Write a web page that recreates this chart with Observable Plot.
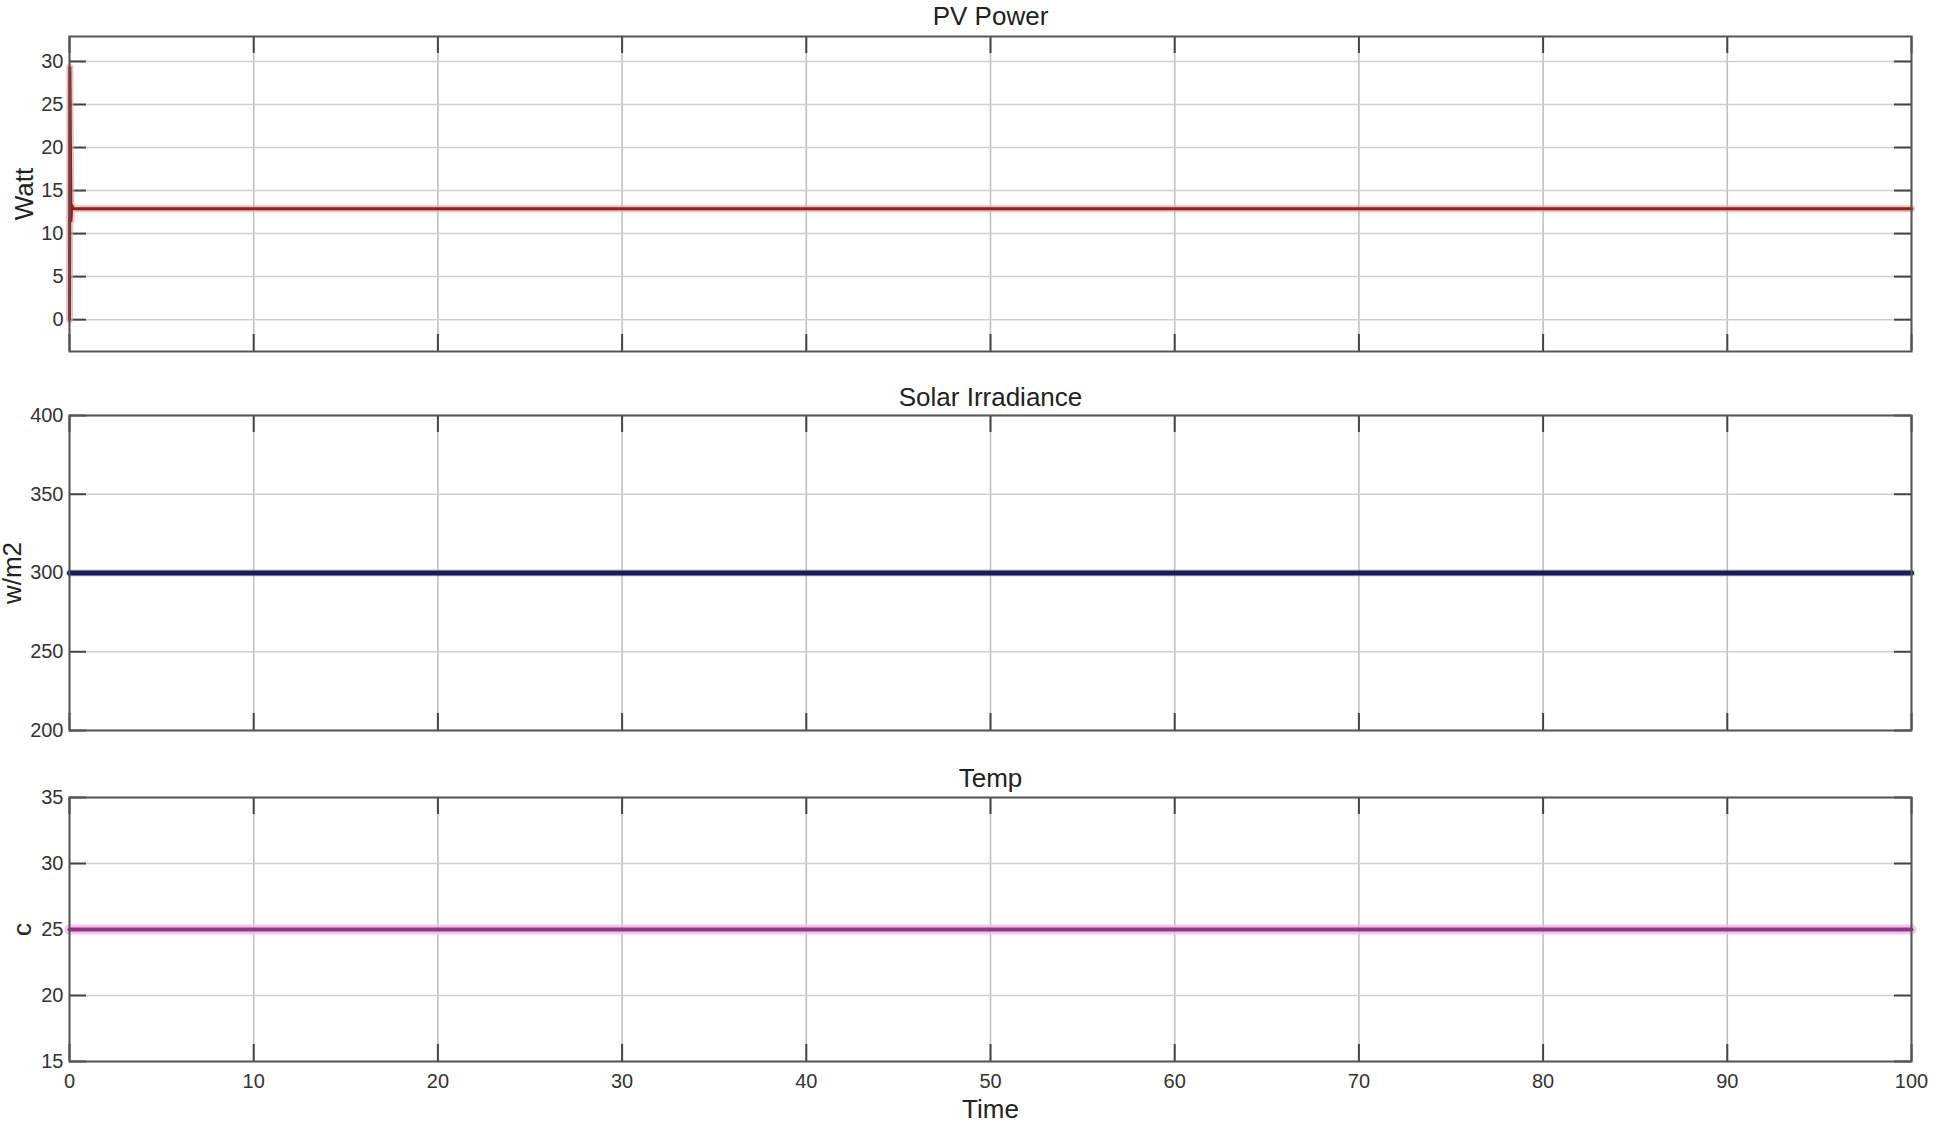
<!DOCTYPE html>
<html>
<head>
<meta charset="utf-8">
<script src="https://cdn.jsdelivr.net/npm/d3@7"></script>
<script src="https://cdn.jsdelivr.net/npm/@observablehq/plot@0.6"></script>
<style>
  html, body { margin: 0; padding: 0; background: #fff; overflow: hidden; }
  #chart svg { display: block; }
</style>
</head>
<body>
<div id="chart"></div>
<script>
// ---- Data ----
const xTicks = [0, 10, 20, 30, 40, 50, 60, 70, 80, 90, 100];

const pvTime  = [0, 0.02, 0.05, 0.08, 0.12, 0.2, 100];
const pvPower = [0, 29.3, 20, 11.5, 13.3, 12.9, 12.9];
const pvTicks = [0, 5, 10, 15, 20, 25, 30];

const irrTime    = [0, 100];
const irradiance = [300, 300];
const irrTicks   = [200, 250, 300, 350, 400];

const tempTime    = [0, 100];
const temperature = [25, 25];
const tempTicks   = [15, 20, 25, 30, 35];

const titles  = ["PV Power", "Solar Irradiance", "Temp"];
const yLabels = ["Watt", "w/m2", "c"];
const xLabel  = "Time";

// ---- Layout ----
const W = 1938, ML = 69, MR = 27;
const FW = W - ML - MR;
const TICK = 17;
const font = "'Liberation Sans', Arial, Helvetica, sans-serif";

function panel({title, ylabel, ylabelDx, t, v, yDomain, yTicks, height, mt, mb, showX, lines, titleDy}) {
  const FH = height - mt - mb;
  const data = t.map((tt, i) => ({t: tt, v: v[i]}));
  const marks = [
    Plot.gridX(xTicks, {stroke: "#bdbdbd", strokeOpacity: 1, strokeWidth: 1.5}),
    Plot.gridY(yTicks, {stroke: "#cfcfcf", strokeOpacity: 1, strokeWidth: 1.5}),
    Plot.tickX(xTicks, {x: d => d, insetBottom: FH - TICK, stroke: "#444", strokeWidth: 2}),
    Plot.tickX(xTicks, {x: d => d, insetTop: FH - TICK, stroke: "#444", strokeWidth: 2}),
    Plot.tickY(yTicks, {y: d => d, insetRight: FW - TICK, stroke: "#444", strokeWidth: 2}),
    Plot.tickY(yTicks, {y: d => d, insetLeft: FW - TICK, stroke: "#444", strokeWidth: 2}),
    ...lines.map(l => Plot.line(data, {x: "t", y: "v", stroke: l.stroke, strokeWidth: l.width, strokeOpacity: l.opacity ?? 1})),
    Plot.frame({stroke: "#555", strokeWidth: 2}),
    Plot.axisY(yTicks, {tickSize: 0, tickPadding: 6, label: null, fontSize: 20, fill: "#333"}),
    Plot.text([title], {text: d => d, frameAnchor: "top", dy: titleDy, textAnchor: "middle", lineAnchor: "middle", fontSize: 26, fill: "#222"}),
    Plot.text([ylabel], {text: d => d, frameAnchor: "left", rotate: -90, dx: ylabelDx, textAnchor: "middle", lineAnchor: "middle", fontSize: 26, fill: "#222"})
  ];
  if (showX) {
    marks.push(Plot.axisX(xTicks, {tickSize: 0, tickPadding: 12, label: null, fontSize: 20, fill: "#333"}));
    marks.push(Plot.text([xLabel], {text: d => d, frameAnchor: "bottom", dy: 48, textAnchor: "middle", lineAnchor: "middle", fontSize: 26, fill: "#222"}));
  }
  return Plot.plot({
    width: W, height,
    marginLeft: ML, marginRight: MR, marginTop: mt, marginBottom: mb,
    x: {domain: [0, 100], axis: showX ? undefined : null},
    y: {domain: yDomain},
    style: {fontFamily: font, fontSize: "20px", background: "#fff", overflow: "visible"},
    marks
  });
}

const chart = document.getElementById("chart");
chart.append(panel({
  title: titles[0], ylabel: yLabels[0], ylabelDx: -45, t: pvTime, v: pvPower,
  yDomain: [-3.7, 32.9], yTicks: pvTicks, height: 380, mt: 36, mb: 29, showX: false, titleDy: -20,
  lines: [{stroke: "#f3a0a0", width: 7, opacity: 0.7}, {stroke: "#8b2222", width: 3}]
}));
chart.append(panel({
  title: titles[1], ylabel: yLabels[1], ylabelDx: -57, t: irrTime, v: irradiance,
  yDomain: [200, 400], yTicks: irrTicks, height: 380, mt: 35, mb: 30, showX: false, titleDy: -18,
  lines: [{stroke: "#9a9ad0", width: 7, opacity: 0.5}, {stroke: "#1a1a55", width: 5}]
}));
chart.append(panel({
  title: titles[2], ylabel: yLabels[2], ylabelDx: -47, t: tempTime, v: temperature,
  yDomain: [15, 35], yTicks: tempTicks, height: 374, mt: 37, mb: 73, showX: true, titleDy: -19,
  lines: [{stroke: "#f4b4e8", width: 10, opacity: 0.8}, {stroke: "#8a3a88", width: 4}]
}));
</script>
</body>
</html>
